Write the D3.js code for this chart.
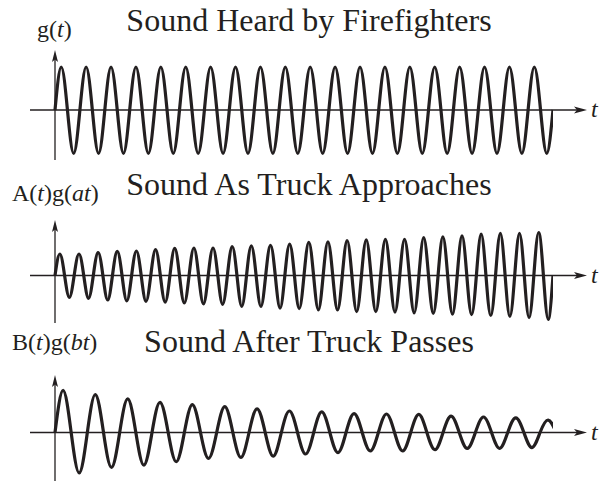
<!DOCTYPE html>
<html>
<head>
<meta charset="utf-8">
<script src="https://cdn.jsdelivr.net/npm/d3@7"></script>
<style>
  body { margin: 0; background: #fff; }
  svg { display: block; }
  text { font-family: "Liberation Serif", "Times New Roman", serif; fill: #231f20; }
</style>
</head>
<body>
<svg id="chart" width="604" height="482"></svg>
<script>
// Panel titles and y-axis labels (italic parts flagged)
const titles = ["Sound Heard by Firefighters", "Sound As Truck Approaches", "Sound After Truck Passes"];
const yLabels = [
  [["g(", false], ["t", true], [")", false]],
  [["A(", false], ["t", true], [")g(", false], ["at", true], [")", false]],
  [["B(", false], ["t", true], [")g(", false], ["bt", true], [")", false]]
];
const xLabel = "t";

// Number of oscillations shown over the common time window
const cycles = [20, 26, 15.4];

// Crest and trough heights of each oscillation, relative to the original tone
const heardPeaks   = [1, 1, 1, 1, 1, 1, 1, 1, 1, 1, 1, 1, 1, 1, 1, 1, 1, 1, 1, 1];
const heardTroughs = [1.01, 1.01, 1.01, 1.01, 1.01, 1.01, 1.01, 1.01, 1.01, 1.01,
                      1.01, 1.01, 1.01, 1.01, 1.01, 1.01, 1.01, 1.01, 1.01, 1.01];

const approachPeaks   = [0.50, 0.50, 0.53, 0.56, 0.57, 0.60, 0.63, 0.64, 0.64, 0.67, 0.69, 0.70, 0.73,
                         0.77, 0.78, 0.81, 0.83, 0.84, 0.84, 0.88, 0.90, 0.92, 0.96, 0.98, 0.98, 1.00];
const approachTroughs = [0.51, 0.53, 0.57, 0.59, 0.60, 0.62, 0.64, 0.66, 0.67, 0.72, 0.72, 0.76, 0.77,
                         0.80, 0.80, 0.84, 0.84, 0.85, 0.87, 0.88, 0.90, 0.91, 0.93, 0.95, 0.98, 1.02];

const passPeaks   = [0.98, 0.88, 0.78, 0.70, 0.65, 0.60, 0.55, 0.50, 0.48, 0.44, 0.43, 0.42, 0.38, 0.36, 0.34, 0.29];
const passTroughs = [0.94, 0.81, 0.76, 0.68, 0.60, 0.58, 0.55, 0.50, 0.47, 0.43, 0.43, 0.40, 0.37, 0.37, 0.35];

const panels = [
  { title: titles[0], label: yLabels[0], cycles: cycles[0], peaks: heardPeaks,    troughs: heardTroughs },
  { title: titles[1], label: yLabels[1], cycles: cycles[1], peaks: approachPeaks, troughs: approachTroughs },
  { title: titles[2], label: yLabels[2], cycles: cycles[2], peaks: passPeaks,     troughs: passTroughs }
];

// Layout
const layout = [
  { base: 110,   top: 50,  bottom: 160, titleY: 31,  labelY: 37,  labelX: 37 },
  { base: 275.5, top: 220, bottom: 323, titleY: 195, labelY: 201, labelX: 12 },
  { base: 432.5, top: 375, bottom: 481, titleY: 352, labelY: 350, labelX: 12 }
];
const amp = 43;          // pixel height of a unit crest
const axisX = 55, waveEnd = 553, axisLeft = 30, arrowTip = 587;

const svg = d3.select("#chart");
const x = d3.scaleLinear().domain([0, 1]).range([axisX, waveEnd]);

const defs = svg.append("defs");
defs.append("clipPath").attr("id", "waveClip")
  .append("rect").attr("x", 0).attr("y", 0).attr("width", x(1)).attr("height", 482);

panels.forEach((p, i) => {
  const L = layout[i];
  const y = d3.scaleLinear().domain([-1, 1]).range([L.base + amp, L.base - amp]);
  const g = svg.append("g");

  // Knots at every quarter cycle: zero, crest, zero, trough
  const knots = [];
  const quarters = Math.ceil(p.cycles * 2) * 2;
  for (let q = 0; q <= quarters; q++) {
    const k = Math.floor(q / 4), r = q % 4;
    let v = 0;
    if (r === 1) v = p.peaks[k];
    if (r === 3) v = -p.troughs[k];
    if (v === undefined) break;
    knots.push({ t: q / (4 * p.cycles), v });
  }

  // Axes
  g.append("line")
    .attr("x1", axisLeft).attr("x2", arrowTip - 6)
    .attr("y1", y(0)).attr("y2", y(0))
    .attr("stroke", "#231f20").attr("stroke-width", 1.3);
  g.append("path")
    .attr("d", `M${arrowTip},${y(0)} L${arrowTip - 13},${y(0) - 3.5} L${arrowTip - 10},${y(0)} L${arrowTip - 13},${y(0) + 3.5} Z`)
    .attr("fill", "#231f20");

  g.append("line")
    .attr("x1", axisX).attr("x2", axisX)
    .attr("y1", L.bottom).attr("y2", L.top + 6)
    .attr("stroke", "#231f20").attr("stroke-width", 1.3);
  g.append("path")
    .attr("d", `M${axisX},${L.top} L${axisX - 3},${L.top + 12} L${axisX},${L.top + 9.5} L${axisX + 3},${L.top + 12} Z`)
    .attr("fill", "#231f20");

  // Wave
  const line = d3.line().x(d => x(d.t)).y(d => y(d.v)).curve(d3.curveNatural);
  g.append("path")
    .datum(knots)
    .attr("d", line)
    .attr("clip-path", "url(#waveClip)")
    .attr("fill", "none")
    .attr("stroke", "#231f20")
    .attr("stroke-width", 3.2)
    .attr("stroke-linejoin", "round");

  // Title
  g.append("text")
    .attr("x", 309).attr("y", L.titleY)
    .attr("text-anchor", "middle")
    .attr("font-size", 32)
    .text(p.title);

  // y label
  const lt = g.append("text")
    .attr("x", L.labelX).attr("y", L.labelY)
    .attr("font-size", 24);
  p.label.forEach(([s, it]) => {
    lt.append("tspan").attr("font-style", it ? "italic" : "normal").text(s);
  });

  // x label
  g.append("text")
    .attr("x", 591).attr("y", y(0) + 7)
    .attr("font-size", 24)
    .attr("font-style", "italic")
    .text(xLabel);
});
</script>
</body>
</html>
